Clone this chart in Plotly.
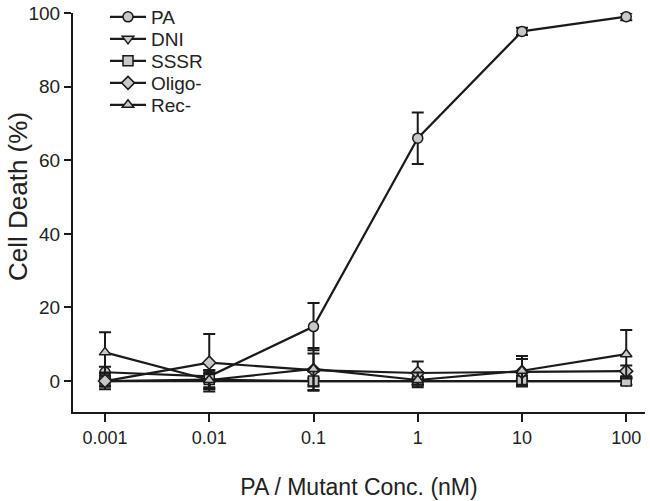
import plotly.graph_objects as go

conc = [0.001, 0.01, 0.1, 1, 10, 100]
tick_labels = ["0.001", "0.01", "0.1", "1", "10", "100"]
y_ticks = [0, 20, 40, 60, 80, 100]

pa = [2.4, 1.3, 14.8, 66, 95, 99]
pa_err = [1.5, 1.5, 6.4, 7, 1, 1]
dni = [0, 0, 0, 0, 0, 0]
dni_err = [1.5, 2, 1, 1, 1, 1]
sssr = [0, 0.4, 0, 0, 0, 0]
sssr_err = [2.2, 2.6, 2.6, 1, 1.5, 1]
oligo = [0, 5, 3, 2.2, 2.5, 2.7]
oligo_err = [1.5, 7.8, 4.5, 3.1, 3.5, 1.5]
rec = [7.8, 0.3, 3.3, 0.3, 2.8, 7.3]
rec_err = [5.5, 2, 5.7, 2, 4, 6.6]

series = [
    ("PA", pa, pa_err, "circle"),
    ("DNI", dni, dni_err, "triangle-down"),
    ("SSSR", sssr, sssr_err, "square"),
    ("Oligo-", oligo, oligo_err, "diamond"),
    ("Rec-", rec, rec_err, "triangle-up"),
]

# figure geometry (px)
H, W = 501, 650
M_L, M_R, M_T, M_B = 73, 5, 13, 89
plot_h = H - M_T - M_B
legend_rows_px = [17, 39, 61, 83, 105]

fig = go.Figure()
legend_layout = {}
for i, (name, vals, errs, sym) in enumerate(series):
    lname = "legend" if i == 0 else f"legend{i + 1}"
    fig.add_trace(go.Scatter(
        x=conc, y=vals, name=name, mode="lines+markers",
        line=dict(color="#1a1a1a", width=2.2),
        marker=dict(symbol=sym, size=10, color="#c8c8c8",
                    line=dict(color="#1a1a1a", width=1.5)),
        error_y=dict(type="data", array=errs, visible=True,
                     color="#1a1a1a", thickness=2, width=6),
        cliponaxis=False,
        legend=lname,
    ))
    legend_layout[lname] = dict(
        xref="container", yref="container",
        x=(M_L + 32) / W, y=1 - legend_rows_px[i] / H,
        xanchor="left", yanchor="middle",
        bgcolor="rgba(0,0,0,0)", font=dict(size=19),
        itemwidth=36,
    )

font_family = "Liberation Sans, Arial, sans-serif"
fig.update_layout(
    width=W, height=H,
    margin=dict(l=M_L, r=M_R, t=M_T, b=M_B, autoexpand=False),
    paper_bgcolor="white", plot_bgcolor="white",
    font=dict(family=font_family, color="#222222", size=17),
    showlegend=True,
    xaxis=dict(
        type="log", range=[-3.307, 2.18], automargin=False,
        tickvals=conc, ticktext=tick_labels,
        showline=True, linecolor="#1a1a1a", linewidth=2,
        ticks="outside", ticklen=8, tickwidth=2, tickcolor="#1a1a1a",
        showgrid=False, zeroline=False,
        tickfont=dict(size=18),
        title=dict(text="PA / Mutant Conc. (nM)", font=dict(size=23), standoff=32),
    ),
    yaxis=dict(
        range=[-8.4, 100], automargin=False,
        tickvals=y_ticks,
        showline=True, linecolor="#1a1a1a", linewidth=2,
        ticks="outside", ticklen=7, tickwidth=2, tickcolor="#1a1a1a",
        showgrid=False, zeroline=False,
        tickfont=dict(size=19),
    ),
    annotations=[dict(
        text="Cell Death (%)", textangle=-90, showarrow=False,
        xref="paper", yref="paper", x=0, xshift=-55,
        y=1 - (197 - M_T) / plot_h, xanchor="center", yanchor="middle",
        font=dict(size=26, color="#222222"),
    )],
    **legend_layout,
)

fig.write_html("out.html",
               config=dict(displayModeBar=False),
               post_script="document.body.style.margin='0';document.body.style.overflow='hidden';")
